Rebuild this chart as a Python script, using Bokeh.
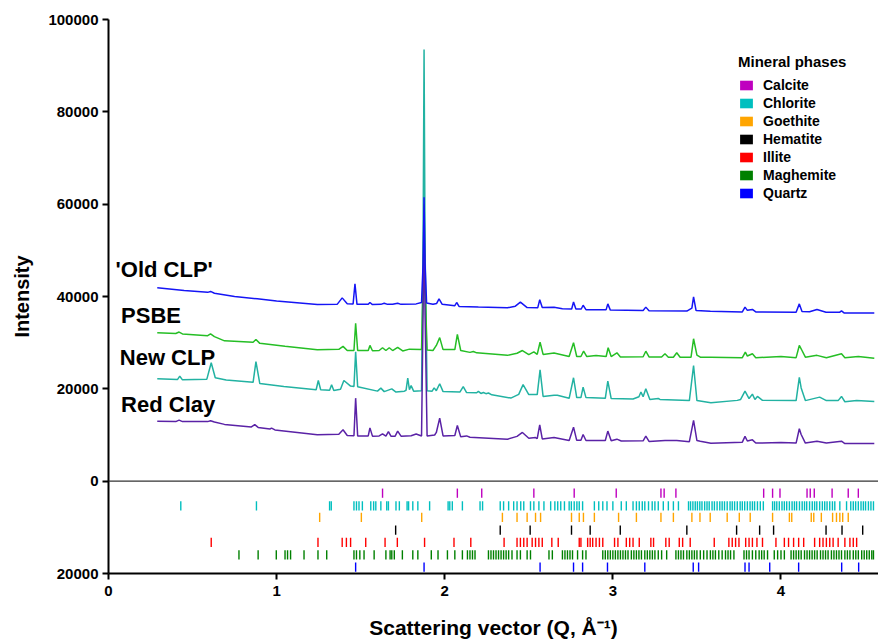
from bokeh.plotting import figure
from bokeh.models import (Range1d, FixedTicker, Span, Legend, LegendItem,
                          BasicTickFormatter)
from bokeh.core.properties import value
from bokeh.embed import file_html
from bokeh.resources import INLINE

FONT = "Liberation Sans"

# ---------------- data: diffraction curves (Q in 1/Å, intensity) ----------------
OLD_CLP = [(0.29, 41900), (0.45, 41300), (0.59, 40900), (0.607, 41100), (0.63, 40700),
           (0.75, 40000), (0.885, 39500), (1.0, 39000), (1.242, 38270), (1.36, 38300),
           (1.39, 39700), (1.42, 38420), (1.455, 38400), (1.466, 42760), (1.478, 38300),
           (1.545, 38300), (1.555, 38700), (1.57, 38250), (1.62, 38300), (1.64, 38550),
           (1.66, 38300), (1.69, 38300), (1.72, 38550), (1.74, 38300), (1.83, 38400),
           (1.862, 38700), (1.871, 47000), (1.877, 61500), (1.883, 47000), (1.892, 38600),
           (1.93, 38300), (1.952, 38500), (1.966, 39500), (1.985, 38300), (2.06, 38000),
           (2.071, 38700), (2.085, 37850), (2.2, 37700), (2.373, 37550), (2.42, 37900),
           (2.45, 38770), (2.49, 37600), (2.553, 37550), (2.565, 39300), (2.58, 37600),
           (2.65, 37650), (2.70, 37350), (2.755, 37300), (2.766, 38800), (2.78, 37300),
           (2.812, 37300), (2.823, 38100), (2.84, 37150), (2.96, 37150), (2.97, 38400),
           (2.985, 37050), (3.18, 36950), (3.196, 37700), (3.215, 36900), (3.44, 36850),
           (3.47, 37500), (3.48, 39900), (3.495, 36950), (3.58, 36800), (3.77, 36650),
           (3.786, 37700), (3.80, 37000), (3.83, 37200), (3.85, 36650), (4.09, 36600),
           (4.109, 38400), (4.125, 36750), (4.17, 36700), (4.214, 37200), (4.268, 36600),
           (4.35, 36600), (4.36, 36900), (4.375, 36450), (4.555, 36400)]

PSBE = [(0.29, 32140), (0.40, 32000), (0.42, 32300), (0.44, 31900), (0.59, 31500),
        (0.607, 31900), (0.63, 31300), (0.69, 30400), (0.86, 30100), (0.877, 30700),
        (0.90, 29850), (1.05, 29200), (1.242, 28450), (1.37, 28550), (1.395, 29200),
        (1.42, 28300), (1.46, 28300), (1.47, 34200), (1.482, 28300), (1.545, 28300),
        (1.555, 29400), (1.57, 28250), (1.61, 28300), (1.63, 28900), (1.65, 28300),
        (1.67, 28900), (1.69, 28300), (1.72, 29000), (1.75, 28200), (1.79, 28600),
        (1.862, 28500), (1.871, 42000), (1.877, 60000), (1.883, 42000), (1.895, 28400),
        (1.93, 28300), (1.95, 29400), (1.97, 31100), (1.99, 28500), (2.06, 28500),
        (2.075, 31800), (2.095, 28300), (2.15, 27900), (2.17, 28100), (2.19, 27800),
        (2.373, 27250), (2.43, 27700), (2.462, 28300), (2.50, 27400), (2.53, 28000),
        (2.55, 27450), (2.567, 30100), (2.585, 27450), (2.65, 27750), (2.74, 27000),
        (2.766, 30000), (2.785, 27000), (2.81, 27000), (2.826, 28150), (2.845, 27000),
        (2.90, 27200), (2.96, 27000), (2.972, 28900), (2.99, 27000), (3.024, 27800),
        (3.045, 26900), (3.18, 26950), (3.196, 28150), (3.215, 26900), (3.29, 26900),
        (3.31, 27600), (3.33, 26850), (3.36, 26850), (3.38, 27800), (3.40, 26850),
        (3.465, 26850), (3.48, 30850), (3.50, 27300), (3.52, 26850), (3.583, 26850),
        (3.77, 26750), (3.788, 27950), (3.80, 27100), (3.83, 27600), (3.85, 26750),
        (4.0, 27000), (4.09, 26750), (4.109, 29400), (4.125, 28300), (4.145, 26850),
        (4.214, 27250), (4.27, 26750), (4.36, 27600), (4.38, 26750), (4.46, 27000),
        (4.555, 26600)]

NEW_CLP = [(0.29, 22180), (0.41, 22000), (0.424, 22740), (0.44, 21950), (0.585, 22100),
           (0.611, 25650), (0.635, 22400), (0.70, 21900), (0.86, 21400), (0.877, 25900),
           (0.90, 21150), (1.043, 20500), (1.235, 19800), (1.248, 21800), (1.262, 19800),
           (1.315, 19700), (1.327, 20900), (1.34, 19650), (1.38, 19900), (1.40, 21800),
           (1.44, 20600), (1.46, 20500), (1.47, 28000), (1.482, 20450), (1.60, 19500),
           (1.62, 20150), (1.64, 19400), (1.685, 20000), (1.71, 19300), (1.76, 19500),
           (1.77, 19700), (1.78, 22300), (1.79, 19800), (1.80, 20700), (1.815, 19500),
           (1.862, 19600), (1.871, 50000), (1.877, 93500), (1.883, 50000), (1.895, 19600),
           (1.925, 19500), (1.937, 20200), (1.95, 19600), (1.97, 21100), (1.99, 19400),
           (2.09, 19300), (2.11, 20500), (2.13, 19200), (2.19, 19150), (2.20, 19450),
           (2.215, 19000), (2.23, 19200), (2.245, 18950), (2.26, 19100), (2.28, 18700),
           (2.393, 18000), (2.44, 18800), (2.466, 20900), (2.50, 18750), (2.55, 18750),
           (2.567, 24100), (2.585, 18350), (2.65, 18600), (2.67, 18600), (2.74, 17950),
           (2.766, 22400), (2.785, 18100), (2.81, 18100), (2.823, 20350), (2.84, 18100),
           (2.955, 17950), (2.97, 21650), (2.99, 17900), (3.12, 17800), (3.155, 18300),
           (3.167, 19300), (3.18, 18300), (3.196, 20000), (3.22, 17700), (3.27, 17900),
           (3.28, 17700), (3.455, 17450), (3.48, 25050), (3.50, 17450), (3.583, 17000),
           (3.74, 17500), (3.76, 17700), (3.786, 19500), (3.81, 17900), (3.83, 18850),
           (3.845, 17700), (3.86, 18350), (3.89, 17500), (4.09, 17450), (4.109, 22500),
           (4.12, 20200), (4.145, 17450), (4.23, 18200), (4.27, 17450), (4.34, 17450),
           (4.36, 18350), (4.38, 17200), (4.45, 17450), (4.555, 17250)]

RED_CLAY = [(0.29, 13000), (0.40, 12900), (0.42, 13230), (0.44, 12900), (0.59, 12900),
            (0.607, 13100), (0.63, 12800), (0.69, 12300), (0.85, 11750), (0.87, 12250),
            (0.89, 11650), (0.96, 11300), (0.97, 11500), (0.99, 11100), (1.242, 10050),
            (1.37, 10150), (1.395, 11130), (1.42, 9900), (1.46, 9850), (1.47, 17980),
            (1.482, 9800), (1.545, 9800), (1.555, 11550), (1.57, 9750), (1.61, 9800),
            (1.63, 10250), (1.65, 9750), (1.665, 10750), (1.68, 9750), (1.705, 9750),
            (1.72, 10830), (1.74, 9750), (1.80, 9850), (1.83, 10200), (1.862, 9800),
            (1.871, 36000), (1.877, 56000), (1.883, 36000), (1.895, 9800), (1.94, 10000),
            (1.95, 10550), (1.97, 13650), (1.99, 9800), (2.06, 9900), (2.075, 12050),
            (2.095, 9600), (2.13, 9800), (2.15, 9500), (2.373, 9100), (2.43, 9700),
            (2.462, 10550), (2.50, 9300), (2.54, 9450), (2.55, 9200), (2.565, 12200),
            (2.58, 9150), (2.65, 9450), (2.74, 8800), (2.766, 11700), (2.785, 8850),
            (2.81, 8850), (2.823, 10100), (2.84, 8800), (2.955, 8800), (2.97, 10850),
            (2.99, 8750), (3.024, 9100), (3.05, 8700), (3.18, 8750), (3.196, 9750),
            (3.215, 8600), (3.31, 8800), (3.38, 8800), (3.455, 8550), (3.48, 13150),
            (3.50, 8800), (3.52, 8650), (3.583, 8200), (3.77, 8450), (3.786, 9700),
            (3.80, 8700), (3.83, 8950), (3.85, 8250), (4.0, 8350), (4.09, 8250),
            (4.109, 11350), (4.12, 10100), (4.145, 8250), (4.214, 8650), (4.27, 8250),
            (4.36, 8650), (4.38, 8150), (4.555, 8150)]

SAMPLE_NAMES = ["'Old CLP'", "PSBE", "New CLP", "Red Clay"]
SAMPLE_COLORS = ["#1515F5", "#25BE25", "#22B2A2", "#5A22A6"]

# ---------------- data: reference peak positions (Q, 1/Å) ----------------
CALCITE = [1.63, 2.075, 2.22, 2.53, 2.77, 3.02, 3.286, 3.305, 3.375, 3.897, 3.95,
           3.994, 4.155, 4.174, 4.198, 4.304, 4.40, 4.46]
CHLORITE = [0.43, 0.88, 1.315, 1.325, 1.46, 1.475, 1.49, 1.51, 1.56, 1.577, 1.59, 1.62,
            1.655, 1.665, 1.71, 1.73, 1.776, 1.785, 1.81, 1.84, 1.91, 2.02, 2.03, 2.045,
            2.105, 2.21, 2.225, 2.33, 2.35, 2.38, 2.41, 2.43, 2.452, 2.47, 2.51, 2.53,
            2.56, 2.59, 2.63, 2.655, 2.672, 2.69, 2.712, 2.74, 2.753, 2.77, 2.786, 2.80,
            2.82, 2.89, 2.916, 2.94, 2.965, 3.00, 3.05, 3.08, 3.12, 3.14, 3.157, 3.175,
            3.19, 3.212, 3.234, 3.25, 3.27, 3.30, 3.33, 3.36, 3.39, 3.45, 3.462, 3.476,
            3.49, 3.503, 3.517, 3.53, 3.546, 3.56, 3.573, 3.59, 3.604, 3.62, 3.636, 3.65,
            3.664, 3.68, 3.697, 3.71, 3.724, 3.74, 3.757, 3.77, 3.784, 3.80, 3.816, 3.83,
            3.843, 3.86, 3.877, 3.895, 3.95, 3.962, 3.975, 3.99, 4.006, 4.02, 4.034, 4.05,
            4.066, 4.08, 4.093, 4.11, 4.126, 4.14, 4.153, 4.17, 4.186, 4.20, 4.213, 4.23,
            4.246, 4.26, 4.274, 4.29, 4.306, 4.32, 4.35, 4.39, 4.415, 4.43, 4.444, 4.46,
            4.476, 4.49, 4.503, 4.52, 4.535, 4.55]
GOETHITE = [1.256, 1.504, 1.863, 2.343, 2.43, 2.49, 2.54, 2.57, 2.754, 2.80, 2.825,
            2.89, 3.034, 3.14, 3.286, 3.36, 3.47, 3.518, 3.579, 3.68, 3.752, 3.817,
            3.95, 4.05, 4.064, 4.18, 4.195, 4.24, 4.307, 4.33, 4.35, 4.367, 4.40]
HEMATITE = [1.708, 2.33, 2.508, 2.754, 2.865, 3.044, 3.44, 3.736, 3.873, 3.956,
            4.268, 4.363, 4.486]
ILLITE = [0.611, 1.246, 1.39, 1.415, 1.44, 1.53, 1.645, 1.718, 1.88, 2.055, 2.155,
          2.353, 2.43, 2.45, 2.47, 2.49, 2.52, 2.54, 2.56, 2.58, 2.637, 2.675, 2.80,
          2.81, 2.85, 2.865, 2.88, 2.90, 2.92, 2.94, 3.01, 3.03, 3.08, 3.10, 3.12,
          3.157, 3.226, 3.242, 3.315, 3.335, 3.395, 3.415, 3.46, 3.603, 3.69, 3.71,
          3.73, 3.75, 3.79, 3.81, 3.83, 3.857, 3.89, 3.97, 4.02, 4.045, 4.075, 4.105,
          4.135, 4.20, 4.23, 4.25, 4.27, 4.29, 4.31, 4.34, 4.38, 4.41, 4.43, 4.45]
MAGHEMITE = [0.776, 0.89, 0.998, 1.05, 1.065, 1.083, 1.163, 1.246, 1.298, 1.46, 1.475,
             1.495, 1.52, 1.58, 1.65, 1.675, 1.685, 1.70, 1.748, 1.81, 1.84, 1.92,
             1.96, 2.016, 2.06, 2.105, 2.135, 2.15, 2.165, 2.18, 2.26, 2.275, 2.29,
             2.305, 2.32, 2.335, 2.35, 2.365, 2.38, 2.40, 2.43, 2.45, 2.49, 2.51, 2.62,
             2.64, 2.70, 2.715, 2.73, 2.745, 2.76, 2.79, 2.82, 2.84, 2.94, 2.955, 2.97,
             2.985, 3.00, 3.015, 3.03, 3.045, 3.06, 3.075, 3.09, 3.11, 3.125, 3.14,
             3.155, 3.17, 3.19, 3.205, 3.22, 3.235, 3.25, 3.27, 3.29, 3.32, 3.375, 3.39,
             3.405, 3.42, 3.44, 3.455, 3.47, 3.485, 3.50, 3.52, 3.54, 3.56, 3.58, 3.595,
             3.61, 3.63, 3.65, 3.67, 3.685, 3.70, 3.72, 3.78, 3.795, 3.81, 3.83, 3.85,
             3.87, 3.885, 3.90, 3.92, 3.96, 3.98, 4.00, 4.02, 4.06, 4.075, 4.09, 4.105,
             4.12, 4.14, 4.155, 4.17, 4.185, 4.20, 4.215, 4.235, 4.25, 4.265, 4.28,
             4.30, 4.315, 4.33, 4.345, 4.36, 4.38, 4.395, 4.41, 4.43, 4.445, 4.46, 4.48,
             4.495, 4.51, 4.525, 4.54, 4.55]
QUARTZ = [1.47, 1.877, 2.567, 2.766, 2.82, 2.968, 3.19, 3.478, 3.51, 3.786, 3.81,
          3.933, 4.105, 4.361, 4.462]

PHASE_NAMES = ["Calcite", "Chlorite", "Goethite", "Hematite", "Illite", "Maghemite", "Quartz"]
PHASE_PEAKS = [CALCITE, CHLORITE, GOETHITE, HEMATITE, ILLITE, MAGHEMITE, QUARTZ]
PHASE_COLORS = ["#BF00BF", "#00BFBF", "#FFA500", "#000000", "#FF0000", "#008000", "#0000FF"]

Y_TICKS = [-20000, 0, 20000, 40000, 60000, 80000, 100000]
X_TICKS = [0, 1, 2, 3, 4]

# ---------------- layout constants ----------------
ROW_Y = [-2600, -5350, -7850, -10600, -13250, -15950, -18600]   # tick-mark rows
ROW_H = 2000
LABEL_X = [0.042, 0.075, 0.067, 0.075]
LABEL_Y = [45800, 35800, 26700, 16500]

p = figure(width=878, height=644, output_backend="svg", toolbar_location=None,
           x_range=Range1d(0, 4.58), y_range=Range1d(-20000, 100000),
           min_border_left=108, min_border_right=0, min_border_top=19,
           min_border_bottom=71)
p.outline_line_color = None
p.xgrid.visible = False
p.ygrid.visible = False
p.background_fill_color = "white"
p.border_fill_color = "white"

# zero line
p.add_layout(Span(location=0, dimension="width", line_color="#333333", line_width=1.2))

# curves
for data, col in zip([NEW_CLP, PSBE, RED_CLAY, OLD_CLP],
                     [SAMPLE_COLORS[2], SAMPLE_COLORS[1], SAMPLE_COLORS[3], SAMPLE_COLORS[0]]):
    xs = [d[0] for d in data]
    ys = [d[1] for d in data]
    p.line(xs, ys, line_color=col, line_width=1.5)

# curve labels
p.text(x=LABEL_X, y=LABEL_Y, text=SAMPLE_NAMES, text_font=value(FONT),
       text_font_style="bold", text_font_size="22px", text_baseline="middle",
       text_color="black")

# phase tick marks (thin rects, so the legend shows a filled square)
legend_items = []
for name, peaks, col, ry in zip(PHASE_NAMES, PHASE_PEAKS, PHASE_COLORS, ROW_Y):
    r = p.rect(x=peaks, y=[ry] * len(peaks), width=1.4, width_units="screen",
               height=ROW_H, fill_color=col, fill_alpha=1.0, line_color=None)
    legend_items.append(LegendItem(label=name, renderers=[r]))

legend = Legend(items=legend_items, location=(630, 372), title="Mineral phases")
legend.title_text_font = FONT
legend.title_text_font_style = "bold"
legend.title_text_font_size = "15px"
legend.title_text_color = "black"
legend.title_standoff = 7
legend.label_text_font = FONT
legend.label_text_font_style = "bold"
legend.label_text_font_size = "14px"
legend.label_text_color = "black"
legend.label_height = 14
legend.label_standoff = 9
legend.glyph_width = 16
legend.glyph_height = 12
legend.spacing = 2
legend.padding = 4
legend.margin = 0
legend.border_line_color = None
legend.background_fill_alpha = 0
p.add_layout(legend)

# axes
p.xaxis.ticker = FixedTicker(ticks=X_TICKS)
p.yaxis.ticker = FixedTicker(ticks=Y_TICKS)
p.yaxis.formatter = BasicTickFormatter(use_scientific=False)
p.yaxis.major_label_overrides = {-20000: "20000"}
for ax in (p.xaxis[0], p.yaxis[0]):
    ax.axis_line_width = 2
    ax.axis_line_color = "black"
    ax.major_tick_line_width = 2
    ax.major_tick_out = 6
    ax.major_tick_in = 0
    ax.minor_tick_out = 0
    ax.minor_tick_in = 0
    ax.major_label_text_font = FONT
    ax.major_label_text_font_style = "bold"
    ax.major_label_text_font_size = "15px"
    ax.major_label_text_color = "black"
    ax.axis_label_text_font = FONT
    ax.axis_label_text_font_style = "bold"
    ax.axis_label_text_font_size = "20px"
    ax.axis_label_text_color = "black"
p.xaxis.axis_label = "Scattering vector (Q, Å⁻¹)"
p.xaxis.axis_label_text_font_size = "21px"
p.yaxis.axis_label = "Intensity"
p.xaxis.axis_label_standoff = 17
p.yaxis.axis_label_standoff = 12
p.yaxis.major_label_standoff = 4
p.xaxis.major_label_standoff = 6

open("out.html", "w").write(file_html(p, INLINE))
